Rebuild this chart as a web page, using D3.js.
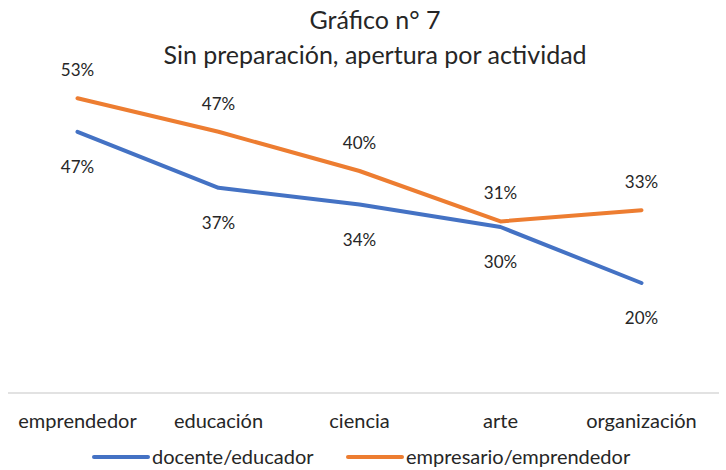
<!DOCTYPE html>
<html>
<head>
<meta charset="utf-8">
<script src="https://cdn.jsdelivr.net/npm/d3@7"></script>
<style>
  body { margin: 0; background: #fff; }
  svg { font-family: Lato, "Open Sans", sans-serif; }
</style>
</head>
<body>
<div id="chart"></div>
<script>
const categories = ["emprendedor", "educación", "ciencia", "arte", "organización"];
const docente = [47, 37, 34, 30, 20];
const empresario = [53, 47, 40, 31, 33];
const seriesNames = ["docente/educador", "empresario/emprendedor"];
const titleLines = ["Gráfico n° 7", "Sin preparación, apertura por actividad"];

const width = 726, height = 470;
const color = ["#4472C4", "#ED7D31"];

const svg = d3.select("#chart")
  .append("svg")
  .attr("width", width)
  .attr("height", height);

// title
svg.append("g")
  .selectAll("text")
  .data(titleLines)
  .enter()
  .append("text")
  .attr("x", 375)
  .attr("y", (d, i) => 29 + i * 35)
  .attr("text-anchor", "middle")
  .attr("font-size", 25)
  .attr("fill", "#262626")
  .text(d => d);

let x = d3.scaleBand().domain(categories).range([7, 712]);
let y = d3.scaleLinear().domain([0, 60]).range([395, 59]);

// axis line
svg.append("line")
  .attr("x1", 8).attr("x2", 719)
  .attr("y1", 393).attr("y2", 393)
  .attr("stroke", "#d9d9d9")
  .attr("stroke-width", 1.5);

// category labels
let xAxis = d3.axisBottom(x).tickSize(0).tickPadding(0);
let gx = svg.append("g")
  .attr("transform", "translate(0,414)")
  .call(xAxis);
gx.select(".domain").remove();
gx.selectAll("text")
  .attr("font-size", 20)
  .attr("font-family", "Lato, 'Open Sans', sans-serif")
  .attr("fill", "#262626");

let line = d3.line()
  .x((d, i) => x(categories[i]) + x.bandwidth() / 2)
  .y(d => y(d));

let series = [docente, empresario];

series.forEach(function(s, k) {
  svg.append("path")
    .datum(s)
    .attr("d", line)
    .attr("fill", "none")
    .attr("stroke", color[k])
    .attr("stroke-width", 4)
    .attr("stroke-linejoin", "round")
    .attr("stroke-linecap", "round");
});

// value labels: blue below, orange above
series.forEach(function(s, k) {
  svg.append("g")
    .selectAll("text")
    .data(s)
    .enter()
    .append("text")
    .attr("x", (d, i) => x(categories[i]) + x.bandwidth() / 2)
    .attr("y", d => y(d) + (k === 0 ? 35 : -28))
    .attr("dy", "0.35em")
    .attr("text-anchor", "middle")
    .attr("font-size", 17)
    .attr("fill", "#262626")
    .text(d => d + "%");
});

// legend
let legendX = [94, 348];
seriesNames.forEach(function(name, k) {
  let g = svg.append("g").attr("transform", "translate(" + legendX[k] + ",457)");
  g.append("line")
    .attr("x1", 0).attr("x2", 54)
    .attr("y1", 0).attr("y2", 0)
    .attr("stroke", color[k])
    .attr("stroke-width", 4)
    .attr("stroke-linecap", "round");
  g.append("text")
    .attr("x", 58)
    .attr("y", 0)
    .attr("dy", "0.35em")
    .attr("font-size", 20)
    .attr("fill", "#262626")
    .text(name);
});
</script>
</body>
</html>
